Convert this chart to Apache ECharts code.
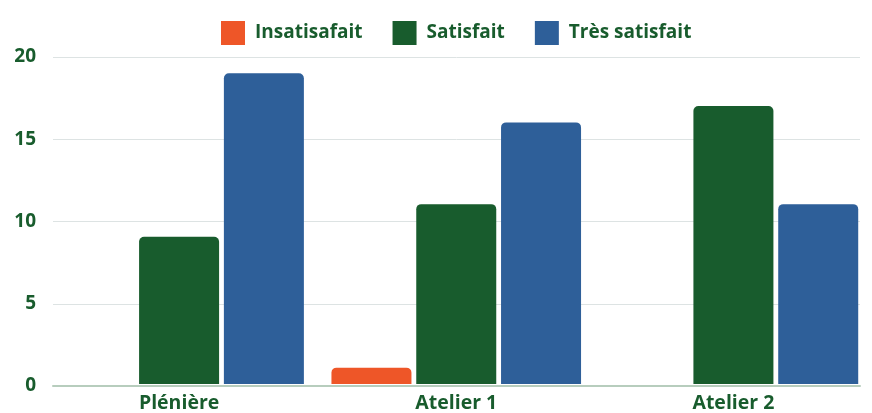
<!DOCTYPE html>
<html><head><meta charset="utf-8">
<script src="https://cdn.jsdelivr.net/npm/echarts@6/dist/echarts.min.js"></script>
<style>html,body{margin:0;padding:0;background:#fff}#c{width:872px;height:413px}</style>
</head><body><div id="c"></div>
<script>
const categories = ["Plénière", "Atelier 1", "Atelier 2"];
const seriesNames = ["Insatisafait", "Satisfait", "Très satisfait"];
const insatisfait = [0, 1, 0];
const satisfait = [9, 11, 17];
const tresSatisfait = [19, 16, 11];
const yTicks = [0, 5, 10, 15, 20];

const colors = ["#ee5628", "#185c2d", "#2e5f99"];
const green = "#185c2d";
const font = "Open Sans";

const chart = echarts.init(document.getElementById('c'), null, {renderer: 'canvas'});
const values = [insatisfait, satisfait, tresSatisfait];
chart.setOption({
  animation: false,
  legend: {
    top: 16, left: 216, icon: 'rect', itemWidth: 24, itemHeight: 24, itemGap: 30,
    data: seriesNames,
    textStyle: {color: green, fontWeight: 'bold', fontSize: 19, fontFamily: font, padding: [0, 0, 0, 5]}
  },
  grid: [
    {left: 40.5, width: 836, top: 57, bottom: 27},
    {left: 53, width: 807, top: 57, bottom: 27}
  ],
  xAxis: [
    {type: 'category', gridIndex: 0, data: categories,
     axisLine: {show: false}, axisTick: {show: false},
     axisLabel: {color: green, fontWeight: 'bold', fontSize: 19.5, fontFamily: font, margin: 9}},
    {type: 'category', gridIndex: 1, data: categories,
     axisLine: {show: true, lineStyle: {color: '#b7cdbd', width: 2}}, axisTick: {show: false},
     axisLabel: {show: false}}
  ],
  yAxis: [
    {type: 'value', gridIndex: 0, min: yTicks[0], max: yTicks[yTicks.length-1], interval: 5, show: false},
    {type: 'value', gridIndex: 1, min: yTicks[0], max: yTicks[yTicks.length-1], interval: 5,
     axisLine: {show: false}, axisTick: {show: false},
     splitLine: {lineStyle: {color: '#dde3e3', width: 1}},
     axisLabel: {color: green, fontWeight: 'bold', fontSize: 19, fontFamily: font, margin: 17}}
  ],
  series: seriesNames.map((n, i) => ({
    name: n, type: 'bar', xAxisIndex: 0, yAxisIndex: 0,
    data: values[i], barWidth: 80, barGap: '6%',
    itemStyle: {color: colors[i], borderRadius: [5, 5, 0, 0]}
  }))
});
</script></body></html>
